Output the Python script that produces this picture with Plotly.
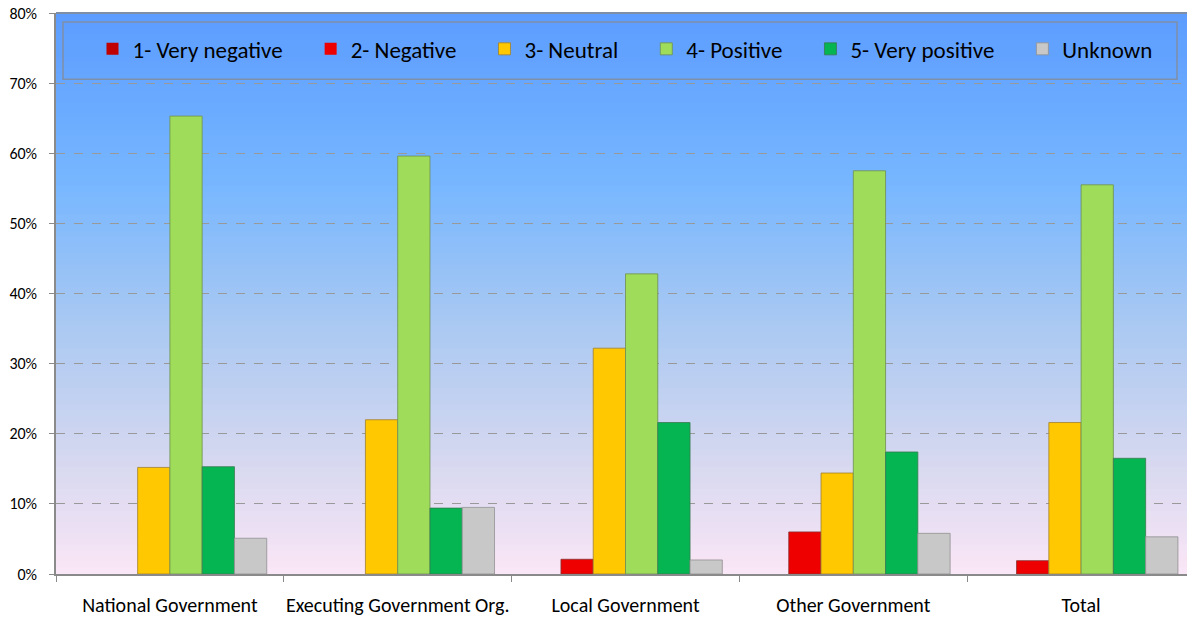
import plotly.graph_objects as go

categories = ["National Government", "Executing Government Org.", "Local Government",
              "Other Government", "Total"]
series_names = ["1- Very negative", "2- Negative", "3- Neutral", "4- Positive",
                "5- Very positive", "Unknown"]
very_negative = [0.0, 0.0, 0.0, 0.0, 0.0]
negative = [0.0, 0.0, 2.1, 6.0, 1.9]
neutral = [15.2, 22.0, 32.2, 14.4, 21.6]
positive = [65.3, 59.6, 42.8, 57.5, 55.5]
very_positive = [15.3, 9.4, 21.6, 17.4, 16.5]
unknown = [5.1, 9.5, 2.0, 5.8, 5.3]
y_ticks = [0, 10, 20, 30, 40, 50, 60, 70, 80]
y_tick_labels = ["0%", "10%", "20%", "30%", "40%", "50%", "60%", "70%", "80%"]

series_values = [very_negative, negative, neutral, positive, very_positive, unknown]
colors = ["#c00000", "#ee0000", "#ffc800", "#9edc5a", "#05b552", "#c8c8c8"]
line_colors = ["#7a2020", "#8a3030", "#a08030", "#6f8f50", "#3a7a50", "#909090"]

FONT = "Carlito, Lato, 'Open Sans', sans-serif"
PAD = "\u2003"

fig = go.Figure()
for i, (name, vals, c, lc) in enumerate(zip(series_names, series_values, colors, line_colors)):
    fig.add_trace(go.Bar(
        x=categories, y=vals,
        name=name + (PAD if i < len(series_names) - 1 else ""),
        marker=dict(color=c, line=dict(color=lc, width=[0.8 if v > 0 else 0 for v in vals])),
    ))

# vertical gradient background bands
stops = [(0.0, (92, 156, 255)), (0.3, (118, 182, 255)), (0.55, (168, 200, 242)),
         (0.8, (214, 216, 240)), (1.0, (250, 230, 246))]

def interp(t):
    for (t0, c0), (t1, c1) in zip(stops[:-1], stops[1:]):
        if t0 <= t <= t1:
            f = (t - t0) / (t1 - t0)
            return tuple(int(round(a + (b - a) * f)) for a, b in zip(c0, c1))
    return stops[-1][1]

W = 1195
shapes = []
N = 100
for i in range(N):
    t = i / N
    r, g, b = interp(t + 0.5 / N)
    shapes.append(dict(type="rect", xref="paper", yref="paper",
                       x0=0, x1=1, y0=1 - (i + 1) / N, y1=1 - i / N + 0.002,
                       fillcolor=f"rgb({r},{g},{b})", line=dict(width=0), layer="below"))
# legend frame (pixel positions converted to paper fractions)
plot_w = W - 56
shapes.append(dict(type="rect", xref="paper", yref="paper",
                   x0=(63 - 56) / plot_w, x1=(1177 - 56) / plot_w,
                   y0=0.882, y1=0.984, line=dict(color="#7f8fa8", width=1.5),
                   fillcolor="rgba(0,0,0,0)", layer="above"))
# top border
shapes.append(dict(type="line", xref="paper", yref="paper", x0=0, x1=1, y0=1, y1=1,
                   line=dict(color="#8a8a8a", width=1.5), layer="above"))

fig.update_layout(
    width=W, height=618,
    margin=dict(l=56, r=0, t=13, b=44, autoexpand=False),
    paper_bgcolor="white",
    plot_bgcolor="rgba(0,0,0,0)",
    barmode="group", bargap=0.15, bargroupgap=0,
    font=dict(family=FONT, color="#000000"),
    shapes=shapes,
    showlegend=True,
    legend=dict(orientation="h", x=(625 - 56) / plot_w, y=0.936, xanchor="center",
                yanchor="middle", bgcolor="rgba(0,0,0,0)",
                font=dict(size=23, family=FONT), traceorder="normal"),
    xaxis=dict(showgrid=False, showline=True, linecolor="#8a8a8a", linewidth=1.5,
               ticks="outside", tickson="boundaries", ticklen=6, tickcolor="#8a8a8a",
               tickangle=0, automargin=False,
               tickfont=dict(size=20, family=FONT), ticklabelstandoff=12),
    yaxis=dict(range=[0, 80], tickvals=y_ticks, ticktext=y_tick_labels,
               showgrid=True, gridcolor="#999999", griddash="dash", gridwidth=1,
               showline=True, linecolor="#8a8a8a", linewidth=1.5,
               ticks="outside", ticklen=5, tickcolor="#8a8a8a", automargin=False,
               tickfont=dict(size=16, family=FONT), ticklabelstandoff=9,
               zeroline=False),
)

fig.write_html("out.html",
               post_script="document.body.style.margin='0';document.body.style.overflow='hidden';"
                           "document.documentElement.style.overflow='hidden';",
               config={"displayModeBar": False})
